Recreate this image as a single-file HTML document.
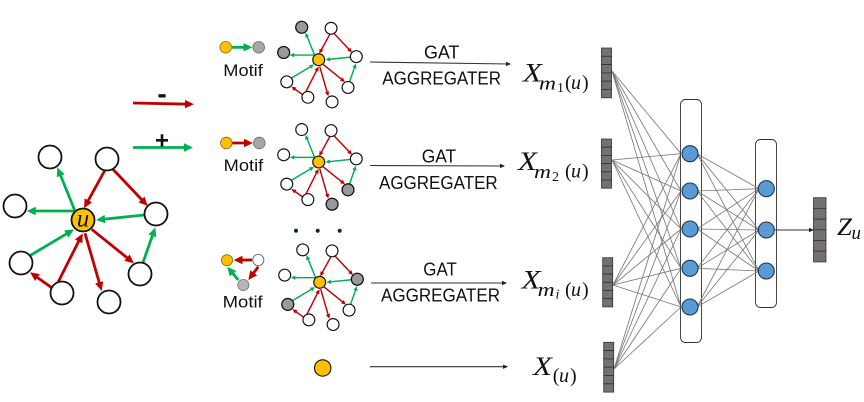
<!DOCTYPE html>
<html>
<head>
<meta charset="utf-8">
<title>Motif GAT diagram</title>
<style>
html,body{margin:0;padding:0;background:#fff;width:864px;height:402px;overflow:hidden}
svg{display:block;filter:blur(.3px)}
.r{stroke:#c00000;marker-end:url(#mr)}
.g{stroke:#00b050;marker-end:url(#mg)}
.e line{stroke-width:2.8;fill:none}
.n{fill:#fff;stroke:#111;stroke-width:var(--n,1.8)}
.s{font-family:"Liberation Sans",sans-serif;fill:#111}
.m{font-family:"Liberation Serif",serif;font-style:italic;fill:#111}
.p{font-family:"Liberation Serif",serif;fill:#111}
.net line{stroke:#7a7a7a;stroke-width:.85}
.bl{fill:#5b9bd5;stroke:#1c3550;stroke-width:1.1}
.bar{fill:#767171;stroke:#333;stroke-width:.8}
.box{fill:#fff;stroke:#333;stroke-width:.9}
.ar{stroke:#333;stroke-width:1.1;marker-end:url(#mk)}
</style>
</head>
<body>
<svg width="864" height="402" viewBox="0 0 864 402" xmlns="http://www.w3.org/2000/svg">
<defs>
<marker id="mr" markerWidth="4" markerHeight="4" refX="1.79" refY="1.5" orient="auto" overflow="visible"><path d="M0 0L3.2 1.5L0 3z" fill="#c00000"/></marker>
<marker id="mg" markerWidth="4" markerHeight="4" refX="1.79" refY="1.5" orient="auto" overflow="visible"><path d="M0 0L3.2 1.5L0 3z" fill="#00b050"/></marker>
<marker id="mk" markerUnits="userSpaceOnUse" markerWidth="6" markerHeight="6" refX="4" refY="2.2" orient="auto" overflow="visible"><path d="M0 0L5 2.2L0 4.4z" fill="#222"/></marker>
<g id="graph">
<g class="e">
<line class="g" x1="75" y1="211" x2="58.8" y2="171"/>
<line class="r" x1="105" y1="170" x2="85.9" y2="204.8"/>
<line class="r" x1="112.7" y1="169" x2="145" y2="203.1"/>
<line class="g" x1="144.3" y1="215" x2="100" y2="219.6"/>
<line class="r" x1="91.7" y1="229.3" x2="130.9" y2="260.8"/>
<line class="g" x1="142.7" y1="263.3" x2="154" y2="231.1"/>
<line class="r" x1="85" y1="233.3" x2="100.6" y2="287.2"/>
<line class="r" x1="58.3" y1="281.7" x2="80.9" y2="236.9"/>
<line class="r" x1="51.7" y1="287.7" x2="33.3" y2="274.6"/>
<line class="g" x1="29.3" y1="256" x2="70.6" y2="231.4"/>
<line class="g" x1="75" y1="211" x2="30.7" y2="211"/>
</g>
<circle class="n" cx="50" cy="157" r="11.5"/>
<circle class="n" cx="107" cy="159" r="11.5"/>
<circle class="n" cx="156" cy="214" r="11.5"/>
<circle class="n" cx="140" cy="274" r="11.5"/>
<circle class="n" cx="109" cy="302" r="11.5"/>
<circle class="n" cx="62" cy="293" r="11.5"/>
<circle class="n" cx="21" cy="263" r="11.5"/>
<circle class="n" cx="15" cy="206" r="11.5"/>
<circle class="n" cx="83" cy="220" r="11.5" style="fill:#ffc000"/>
</g>
</defs>

<!-- big graph -->
<use href="#graph"/>
<text class="m" x="83" y="226.5" font-size="25" text-anchor="middle">u</text>

<!-- legend arrows -->
<g class="e">
<line class="r" x1="133" y1="103" x2="190" y2="104.2"/>
<line class="g" x1="133" y1="147.5" x2="189" y2="147.5"/>
</g>
<text class="s" x="162" y="103" font-size="28" font-weight="bold" text-anchor="middle">-</text>
<text class="s" x="162" y="148.5" font-size="24" font-weight="bold" text-anchor="middle">+</text>

<!-- small graphs -->
<g style="--n:2.3" transform="translate(318.7,59.7) scale(.515) translate(-83,-220)">
<use href="#graph"/>
<circle class="n" cx="50" cy="157" r="11.5" style="fill:#999"/>
<circle class="n" cx="15" cy="206" r="11.5" style="fill:#999"/>
</g>
<g style="--n:2.3" transform="translate(318.7,162) scale(.515) translate(-83,-220)">
<use href="#graph"/>
<circle class="n" cx="140" cy="274" r="11.5" style="fill:#999"/>
<circle class="n" cx="109" cy="302" r="11.5" style="fill:#999"/>
</g>
<g style="--n:2.3" transform="translate(319.7,282.3) scale(.515) translate(-83,-220)">
<use href="#graph"/>
<circle class="n" cx="156" cy="214" r="11.5" style="fill:#999"/>
<circle class="n" cx="21" cy="263" r="11.5" style="fill:#999"/>
</g>

<!-- motifs -->
<g class="e">
<line class="g" x1="232" y1="47.3" x2="248.5" y2="47.3"/>
<line class="r" x1="232" y1="143" x2="249" y2="143"/>
<line class="r" x1="252" y1="260" x2="237.5" y2="260"/>
<line class="r" x1="258.3" y1="266.7" x2="250.7" y2="276.8"/>
<line class="g" x1="238.3" y1="280" x2="229.8" y2="269.8"/>
</g>
<circle cx="225.7" cy="47.3" r="5.8" fill="#ffc000" stroke="#7a6a20" stroke-width=".8"/>
<circle cx="258.7" cy="47.3" r="5.8" fill="#a6a6a6" stroke="#666" stroke-width=".8"/>
<circle cx="226.3" cy="143" r="5.8" fill="#ffc000" stroke="#7a6a20" stroke-width=".8"/>
<circle cx="259.3" cy="143" r="5.8" fill="#a6a6a6" stroke="#666" stroke-width=".8"/>
<circle cx="227" cy="260.3" r="5.6" fill="#ffc000" stroke="#7a6a20" stroke-width=".8"/>
<circle cx="258.3" cy="260" r="5.6" fill="#fff" stroke="#555" stroke-width=".8"/>
<circle cx="243.3" cy="285" r="5.6" fill="#b5b5b5" stroke="#777" stroke-width=".8"/>
<text class="s" x="223.3" y="76" font-size="16.5" textLength="39.5" lengthAdjust="spacingAndGlyphs">Motif</text>
<text class="s" x="223.7" y="171" font-size="16.5" textLength="39.5" lengthAdjust="spacingAndGlyphs">Motif</text>
<text class="s" x="222.7" y="307.3" font-size="16.5" textLength="40" lengthAdjust="spacingAndGlyphs">Motif</text>

<!-- dots -->
<circle cx="296" cy="230.7" r="2" fill="#0d2440"/>
<circle cx="317.7" cy="230.7" r="2" fill="#0d2440"/>
<circle cx="339.7" cy="230.7" r="2" fill="#0d2440"/>

<!-- single node -->
<circle cx="322.7" cy="368" r="8.2" fill="#ffc000" stroke="#111" stroke-width="1.1"/>

<!-- aggregator arrows -->
<line class="ar" x1="370" y1="62" x2="510" y2="64"/>
<line class="ar" x1="370" y1="165.5" x2="504" y2="166"/>
<line class="ar" x1="371" y1="283" x2="506" y2="283"/>
<line class="ar" x1="370" y1="366.7" x2="507" y2="366.7"/>

<text class="s" x="424" y="58.3" font-size="18" textLength="35.5" lengthAdjust="spacingAndGlyphs">GAT</text>
<text class="s" x="382.3" y="84.3" font-size="18" textLength="118.7" lengthAdjust="spacingAndGlyphs">AGGREGATER</text>
<text class="s" x="421.7" y="162.7" font-size="18" textLength="34.5" lengthAdjust="spacingAndGlyphs">GAT</text>
<text class="s" x="379" y="189" font-size="18" textLength="118.7" lengthAdjust="spacingAndGlyphs">AGGREGATER</text>
<text class="s" x="423.3" y="275.7" font-size="18" textLength="33.5" lengthAdjust="spacingAndGlyphs">GAT</text>
<text class="s" x="381" y="301.7" font-size="18" textLength="119" lengthAdjust="spacingAndGlyphs">AGGREGATER</text>

<!-- math labels -->
<text class="m" x="523" y="81.7" font-size="26" textLength="19" lengthAdjust="spacingAndGlyphs">X</text>
<text class="m" x="539" y="89.5" font-size="19" textLength="17" lengthAdjust="spacingAndGlyphs">m</text>
<text class="p" x="557" y="92" font-size="14">1</text>
<text class="p" x="565" y="89" font-size="20">(</text>
<text class="m" x="571" y="89" font-size="20">u</text>
<text class="p" x="582" y="89" font-size="20">)</text>

<text class="m" x="518" y="170" font-size="26" textLength="19" lengthAdjust="spacingAndGlyphs">X</text>
<text class="m" x="534" y="178" font-size="19" textLength="17" lengthAdjust="spacingAndGlyphs">m</text>
<text class="p" x="552" y="181" font-size="14">2</text>
<text class="p" x="565" y="177.5" font-size="20">(</text>
<text class="m" x="571" y="177.5" font-size="20">u</text>
<text class="p" x="582" y="177.5" font-size="20">)</text>

<text class="m" x="521.7" y="288.3" font-size="26" textLength="19" lengthAdjust="spacingAndGlyphs">X</text>
<text class="m" x="537.7" y="296" font-size="19" textLength="17" lengthAdjust="spacingAndGlyphs">m</text>
<text class="m" x="555.5" y="298.5" font-size="14">i</text>
<text class="p" x="565" y="296" font-size="20">(</text>
<text class="m" x="571" y="296" font-size="20">u</text>
<text class="p" x="582" y="296" font-size="20">)</text>

<text class="m" x="533" y="375" font-size="26" textLength="19" lengthAdjust="spacingAndGlyphs">X</text>
<text class="p" x="552.7" y="382" font-size="20">(</text>
<text class="m" x="559" y="382" font-size="20">u</text>
<text class="p" x="570" y="382" font-size="20">)</text>

<text class="m" x="837" y="235" font-size="25" textLength="15" lengthAdjust="spacingAndGlyphs">Z</text>
<text class="m" x="851.5" y="239" font-size="19">u</text>

<!-- network lines -->
<g class="net">
<line x1="612" y1="71" x2="681" y2="153.7"/><line x1="612" y1="71" x2="681" y2="191"/><line x1="612" y1="71" x2="681" y2="229"/><line x1="612" y1="71" x2="681" y2="268.3"/><line x1="612" y1="71" x2="681" y2="307"/>
<line x1="612" y1="160" x2="681" y2="153.7"/><line x1="612" y1="160" x2="681" y2="191"/><line x1="612" y1="160" x2="681" y2="229"/><line x1="612" y1="160" x2="681" y2="268.3"/><line x1="612" y1="160" x2="681" y2="307"/>
<line x1="613" y1="285" x2="681" y2="153.7"/><line x1="613" y1="285" x2="681" y2="191"/><line x1="613" y1="285" x2="681" y2="229"/><line x1="613" y1="285" x2="681" y2="268.3"/><line x1="613" y1="285" x2="681" y2="307"/>
<line x1="614" y1="369" x2="681" y2="153.7"/><line x1="614" y1="369" x2="681" y2="191"/><line x1="614" y1="369" x2="681" y2="229"/><line x1="614" y1="369" x2="681" y2="268.3"/><line x1="614" y1="369" x2="681" y2="307"/>
</g>

<!-- columns -->
<rect class="box" x="680.5" y="99.5" width="21" height="243" rx="5"/>
<rect class="box" x="755.5" y="139.5" width="21" height="168" rx="5"/>
<g class="net">
<line x1="697" y1="153.7" x2="759" y2="188.7"/><line x1="697" y1="153.7" x2="759" y2="230"/><line x1="697" y1="153.7" x2="759" y2="271"/>
<line x1="697" y1="191" x2="759" y2="188.7"/><line x1="697" y1="191" x2="759" y2="230"/><line x1="697" y1="191" x2="759" y2="271"/>
<line x1="697" y1="229" x2="759" y2="188.7"/><line x1="697" y1="229" x2="759" y2="230"/><line x1="697" y1="229" x2="759" y2="271"/>
<line x1="697" y1="268.3" x2="759" y2="188.7"/><line x1="697" y1="268.3" x2="759" y2="230"/><line x1="697" y1="268.3" x2="759" y2="271"/>
<line x1="697" y1="307" x2="759" y2="188.7"/><line x1="697" y1="307" x2="759" y2="230"/><line x1="697" y1="307" x2="759" y2="271"/>
</g>
<circle class="bl" cx="690" cy="153.7" r="8"/>
<circle class="bl" cx="690" cy="191" r="8"/>
<circle class="bl" cx="690" cy="229" r="8"/>
<circle class="bl" cx="690" cy="268.3" r="8"/>
<circle class="bl" cx="690" cy="307" r="8"/>
<circle class="bl" cx="766.3" cy="188.7" r="8"/>
<circle class="bl" cx="766.3" cy="230" r="8"/>
<circle class="bl" cx="766.3" cy="271" r="8"/>

<line class="ar" x1="775" y1="230" x2="813" y2="230"/>

<!-- bars -->
<g class="bar">
<rect x="601.5" y="48" width="10" height="8.3"/><rect x="601.5" y="56.3" width="10" height="8.3"/><rect x="601.5" y="64.6" width="10" height="8.3"/><rect x="601.5" y="72.9" width="10" height="8.3"/><rect x="601.5" y="81.2" width="10" height="8.3"/><rect x="601.5" y="89.5" width="10" height="8.3"/>
<rect x="601.5" y="139" width="10" height="8.2"/><rect x="601.5" y="147.2" width="10" height="8.2"/><rect x="601.5" y="155.4" width="10" height="8.2"/><rect x="601.5" y="163.6" width="10" height="8.2"/><rect x="601.5" y="171.8" width="10" height="8.2"/><rect x="601.5" y="180" width="10" height="8.2"/>
<rect x="602.7" y="257.7" width="10" height="8.2"/><rect x="602.7" y="265.9" width="10" height="8.2"/><rect x="602.7" y="274.1" width="10" height="8.2"/><rect x="602.7" y="282.3" width="10" height="8.2"/><rect x="602.7" y="290.5" width="10" height="8.2"/><rect x="602.7" y="298.7" width="10" height="8.2"/>
<rect x="603.7" y="342.3" width="10" height="8.3"/><rect x="603.7" y="350.6" width="10" height="8.3"/><rect x="603.7" y="358.9" width="10" height="8.3"/><rect x="603.7" y="367.2" width="10" height="8.3"/><rect x="603.7" y="375.5" width="10" height="8.3"/><rect x="603.7" y="383.8" width="10" height="8.3"/>
<rect x="813.5" y="197.7" width="12.5" height="10.7"/><rect x="813.5" y="208.4" width="12.5" height="10.7"/><rect x="813.5" y="219.1" width="12.5" height="10.7"/><rect x="813.5" y="229.8" width="12.5" height="10.7"/><rect x="813.5" y="240.5" width="12.5" height="10.7"/><rect x="813.5" y="251.2" width="12.5" height="10.7"/>
</g>
</svg>
</body>
</html>
